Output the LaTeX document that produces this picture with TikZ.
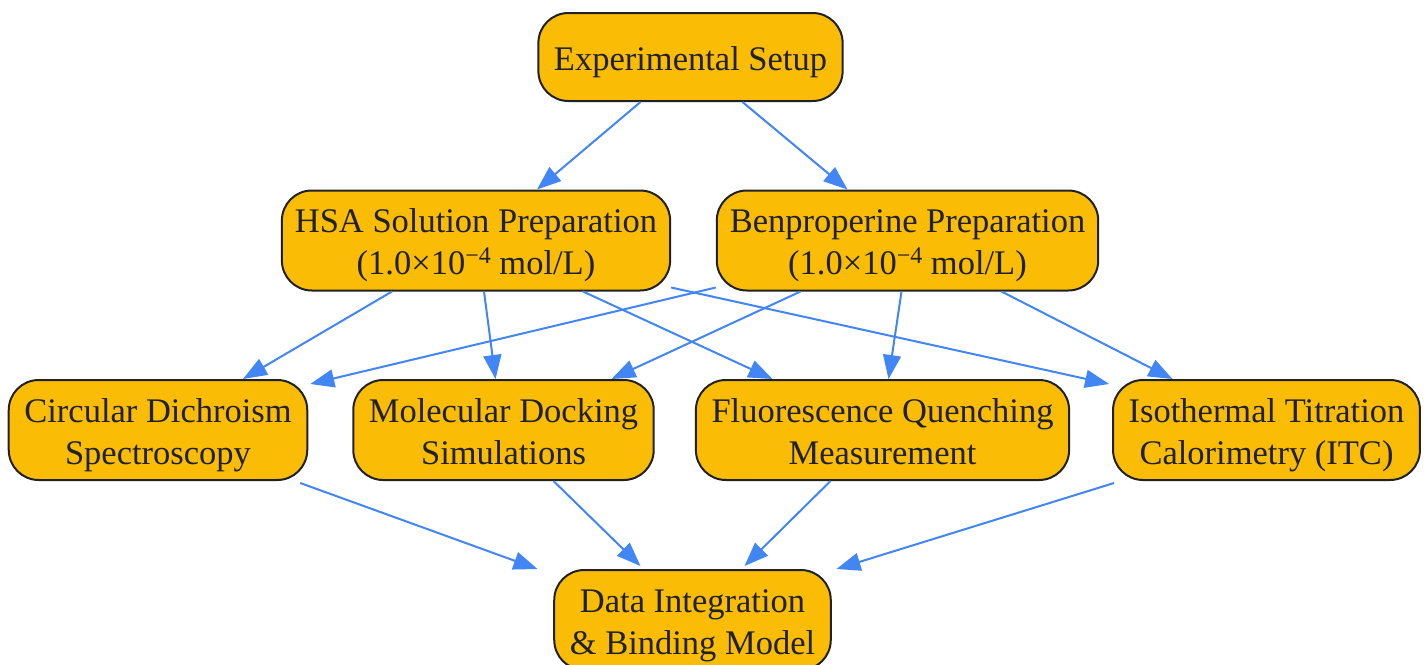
\documentclass[tikz,border=0pt]{standalone}
\usepackage{fontspec}
\setmainfont{Liberation Serif}
\usepackage{xcolor}
\usetikzlibrary{arrows.meta}
\definecolor{boxfill}{HTML}{FBBC05}
\definecolor{boxline}{HTML}{202124}
\definecolor{linkblue}{HTML}{4285F4}
\newcommand{\conc}{(1.0×10{\fontsize{12}{12}\selectfont\raisebox{5.6pt}{\char"2212 4}} mol/L)}
\tikzset{
  stage/.style={draw=boxline,line width=1pt,fill=boxfill,rounded corners=15pt,
    align=center,text=boxline,inner xsep=7.8pt,inner ysep=4pt,minimum height=50pt,
    text height=38pt,text depth=4pt,font=\fontsize{17.25}{21}\selectfont},
  link/.style={draw=linkblue,line width=1pt,-{Triangle[length=12pt,width=9pt]}}
}
\begin{document}
\begin{tikzpicture}[x=0.5pt,y=-0.5pt]
\useasboundingbox (0,0) rectangle (1428,664);
% top
\node[stage,minimum height=44pt,text height=17pt] (setup) at (690.5,57) {Experimental Setup};
% preparation
\node[stage,inner xsep=6.5pt] (hsa) at (476,240.5) {HSA Solution Preparation\\\conc};
\node[stage,inner xsep=6.5pt] (benp) at (907.5,240.5) {Benproperine Preparation\\\conc};
% methods
\node[stage] (cd) at (158,430) {Circular Dichroism\\Spectroscopy};
\node[stage] (md) at (503.5,430) {Molecular Docking\\Simulations};
\node[stage] (fq) at (882.5,430) {Fluorescence Quenching\\Measurement};
\node[stage] (itc) at (1266.5,430) {Isothermal Titration\\Calorimetry (ITC)};
% result
\node[stage] (data) at (692.5,620) {Data Integration\\\& Binding Model};

\draw[link] ([xshift=-25pt]setup.south) -- ([xshift=30.5pt]hsa.north);
\draw[link] ([xshift=26pt]setup.south) -- ([xshift=-30pt]benp.north);

\draw[link] ([xshift=-42pt]hsa.south) -- ([xshift=42.5pt]cd.north);
\draw[link] ([xshift=4pt]hsa.south) -- ([xshift=-4pt]md.north);
\draw[link] ([xshift=53.5pt]hsa.south) -- ([xshift=-55pt]fq.north);
\draw[link] ([yshift=2pt]hsa.south east) -- ([yshift=-2.5pt,xshift=-1.5pt]itc.north west);

\draw[link] ([yshift=2pt]benp.south west) -- ([yshift=-2.5pt,xshift=1pt]cd.north east);
\draw[link] ([xshift=-53.5pt]benp.south) -- ([xshift=54pt]md.north);
\draw[link] ([xshift=-3pt]benp.south) -- ([xshift=3pt]fq.north);
\draw[link] ([xshift=47pt]benp.south) -- ([xshift=-47pt]itc.north);

\draw[link] ([xshift=-4pt,yshift=-1pt]cd.south east) -- ([xshift=-77.5pt]data.north);
\draw[link] ([xshift=25pt]md.south) -- ([xshift=-26pt,yshift=1.5pt]data.north);
\draw[link] ([xshift=-26pt]fq.south) -- ([xshift=26pt,yshift=1.5pt]data.north);
\draw[link] ([xshift=1pt,yshift=-1pt]itc.south west) -- ([xshift=72pt]data.north);
\end{tikzpicture}
\end{document}
